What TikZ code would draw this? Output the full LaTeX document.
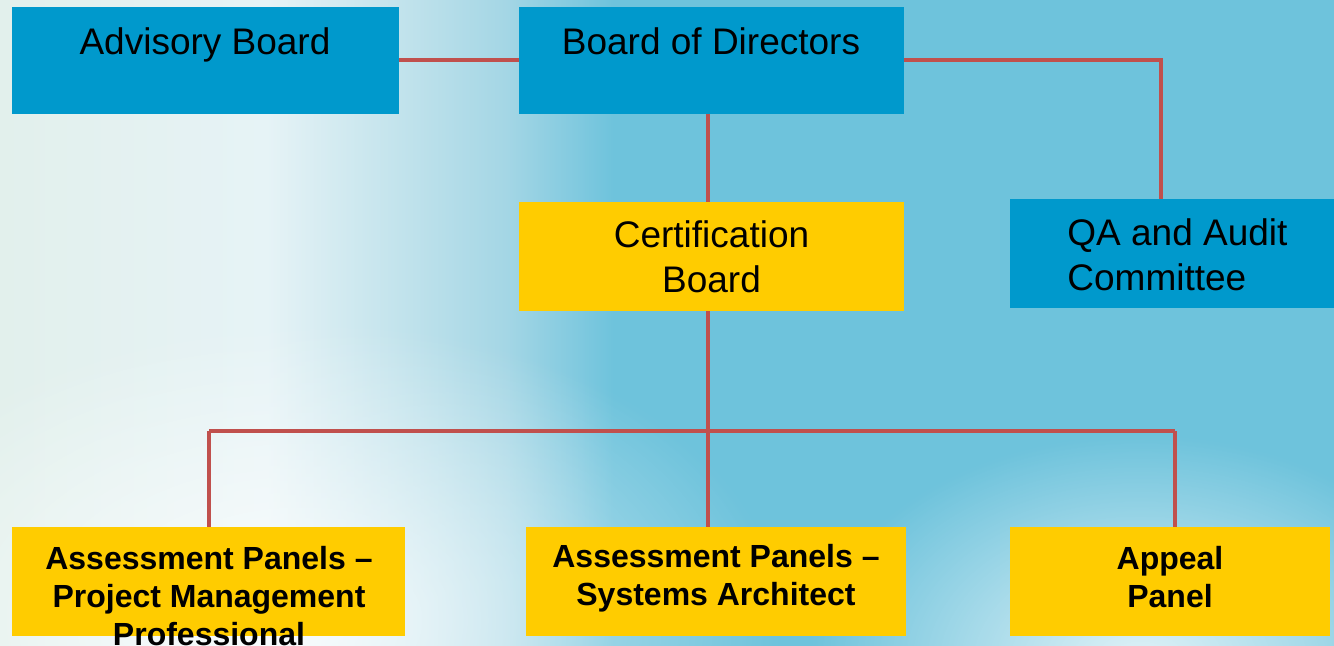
\documentclass[tikz,border=0pt]{standalone}
\usepackage{fontspec}
\setmainfont{Liberation Sans}
\usetikzlibrary{fadings}
\definecolor{boxblue}{HTML}{0099CC}
\definecolor{boxyellow}{HTML}{FFCC00}
\definecolor{linkred}{HTML}{C0504D}
\definecolor{bgblue}{HTML}{6EC3DC}
\definecolor{bgpale}{HTML}{E2F0EC}
\definecolor{bglight}{HTML}{E6F3F6}
\definecolor{bgmid}{HTML}{C2E3EC}
\definecolor{bgdeep}{HTML}{A4D6E5}
\pgfdeclarehorizontalshading{bgshade}{100bp}{color(0bp)=(bgpale); color(25bp)=(bgpale); color(35bp)=(bglight); color(40bp)=(bgmid); color(44bp)=(bgdeep); color(48bp)=(bgblue); color(100bp)=(bgblue)}
\tikzfading[name=softspot, inner color=transparent!0, outer color=transparent!100]
\tikzset{
  orgbox/.style n args={2}{rectangle, inner sep=0pt, minimum width=#1*0.5pt, minimum height=#2*0.5pt},
  bluebox/.style={fill=boxblue},
  yellowbox/.style={fill=boxyellow},
  toptext/.style={inner sep=0pt, align=center, font=\fontsize{18.5}{22.5}\selectfont},
  bottext/.style={inner sep=0pt, align=center, font=\bfseries\fontsize{16}{19}\selectfont},
  link/.style={draw=linkred, line width=2pt},
}
\begin{document}
\begin{tikzpicture}[x=0.5pt,y=-0.5pt]
\useasboundingbox (0,0) rectangle (1334,646);
% background
\shade[shading=bgshade] (0,0) rectangle (1334,646);
\fill[white, path fading=softspot, fill opacity=0.8] (300,620) ellipse (480 and 300);
\fill[white, path fading=softspot, fill opacity=0.8] (1140,665) ellipse (330 and 230);

% boxes
\node[orgbox={387}{107}, bluebox] (adv) at (205.5,60.5) {};
\node[orgbox={385}{107}, bluebox] (bod) at (711.5,60.5) {};
\node[orgbox={385}{109}, yellowbox] (cert) at (711.5,256.5) {};
\node[orgbox={324}{109}, bluebox] (qa) at (1172,253.5) {};
\node[orgbox={393}{109}, yellowbox] (p1) at (208.5,581.5) {};
\node[orgbox={380}{109}, yellowbox] (p2) at (716,581.5) {};
\node[orgbox={320}{109}, yellowbox] (p3) at (1170,581.5) {};

% connectors
\coordinate (qaT) at (1161,199);
\coordinate (bL) at (209,431);
\coordinate (bR) at (1175,431);
\draw[link] (adv.east) -- (bod.west);
\draw[link] (bod.east) -| (qaT);
\draw[link] ([xshift=-2pt]bod.south) -- ([xshift=-2pt]cert.north);
\draw[link] ([xshift=-2pt]cert.south) -- ([xshift=-2pt]cert.south |- p2.north);
\draw[link] (bL) -- (bR);
\draw[link] (bL) -- (bL |- p1.north);
\draw[link] (bR) -- (bR |- p3.north);

% texts
\node[toptext, anchor=base] (advT) at (205,55) {Advisory Board};
\node[toptext, anchor=base] (bodT) at (711,55) {Board of Directors};
\node[toptext] (certT) at (711.5,257) {Certification\\Board};
\node[toptext, anchor=west, align=left] (qaT2) at (1067,255) {QA and Audit\\Committee};
\node[bottext] (p1T) at (209,596) {Assessment Panels --\\Project Management\\Professional};
\node[bottext] (p2T) at (716,578.5) {Assessment Panels --\\Systems Architect};
\node[bottext] (p3T) at (1170,577) {Appeal\\Panel};
\end{tikzpicture}
\end{document}
